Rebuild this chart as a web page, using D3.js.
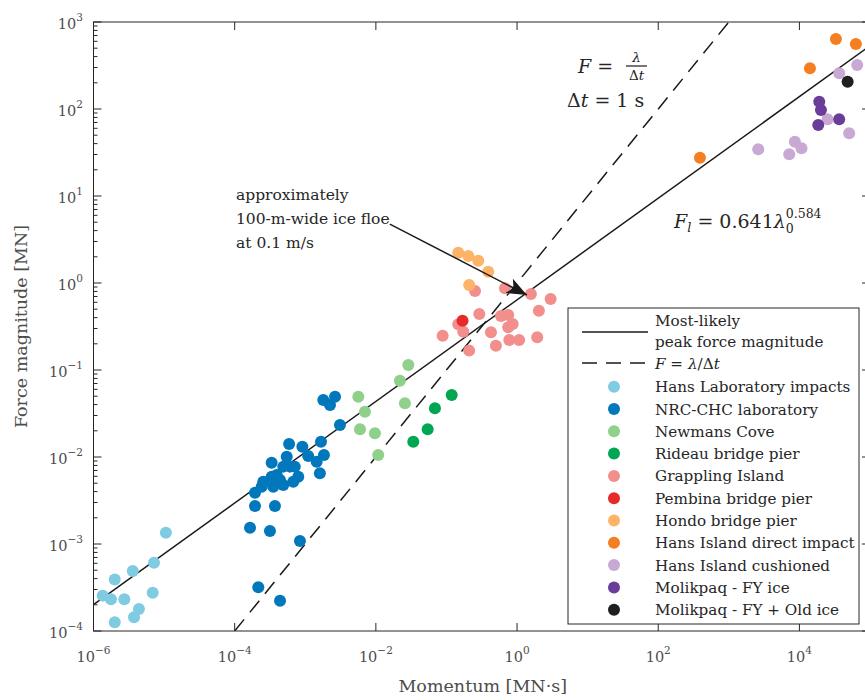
<!DOCTYPE html>
<html>
<head>
<meta charset="utf-8">
<script src="https://cdn.jsdelivr.net/npm/d3@7"></script>
<style>
  body { margin: 0; background: #fff; }
  text { font-family: "DejaVu Serif", serif; }
</style>
</head>
<body>
<div id="chart"></div>
<script>
// momentum [MN·s], force [MN]
const hansLab = [[1.06e-5, 1.35e-3], [7.2e-6, 6.1e-4], [3.6e-6, 4.9e-4], [2.0e-6, 3.9e-4],
  [1.35e-6, 2.55e-4], [1.77e-6, 2.31e-4], [2.73e-6, 2.31e-4], [6.9e-6, 2.75e-4],
  [4.4e-6, 1.79e-4], [3.75e-6, 1.44e-4], [2.0e-6, 1.26e-4]];
const nrcChc = [[1.80e-3, 0.0452], [2.64e-3, 0.0493], [2.24e-3, 0.0396], [3.1e-3, 0.0233],
  [5.9e-4, 0.0141], [9.1e-4, 0.0131], [1.67e-3, 0.0150], [1.84e-3, 0.01055],
  [3.34e-4, 8.6e-3], [5.46e-4, 0.01007], [6.07e-4, 7.75e-3], [1.10e-3, 0.01026],
  [1.45e-3, 8.83e-3], [1.61e-3, 6.5e-3], [7.96e-4, 5.94e-3], [6.76e-4, 5.2e-3],
  [4.39e-4, 5.45e-3], [3.34e-4, 5.94e-3], [2.54e-4, 5.2e-3], [3.52e-4, 4.56e-3],
  [4.88e-4, 4.77e-3], [2.41e-4, 4.56e-3], [1.94e-4, 3.89e-3], [4.88e-4, 7.75e-3],
  [3.94e-4, 6.2e-3], [7.1e-4, 7.75e-3], [1.94e-4, 2.74e-3], [3.72e-4, 2.74e-3],
  [1.65e-4, 1.54e-3], [3.16e-4, 1.41e-3], [8.4e-4, 1.08e-3], [2.16e-4, 3.18e-4],
  [4.39e-4, 2.23e-4]];
const newmansCove = [[0.0288, 0.114], [0.0219, 0.0753], [5.64e-3, 0.0493], [7.0e-3, 0.0332],
  [0.0258, 0.0414], [5.96e-3, 0.0208], [9.7e-3, 0.0187], [0.0108, 0.01055]];
const rideau = [[0.1186, 0.0516], [0.0687, 0.0363], [0.0542, 0.0208], [0.0339, 0.0150]];
const grappling = [[0.254, 0.809], [0.675, 0.869], [1.57, 0.748], [2.99, 0.655], [2.04, 0.481],
  [0.292, 0.441], [0.147, 0.335], [0.173, 0.275], [0.0883, 0.248], [0.592, 0.418],
  [0.750, 0.428], [0.867, 0.338], [0.750, 0.310], [0.427, 0.271], [0.502, 0.190],
  [0.776, 0.221], [1.07, 0.221], [1.93, 0.238], [0.210, 0.167]];
const pembina = [[0.169, 0.369]];
const hondo = [[0.147, 2.23], [0.204, 2.04], [0.282, 1.80], [0.391, 1.35], [0.210, 0.948]];
const hansDirect = [[32900, 638], [63100, 558], [14100, 294], [390, 27.5]];
const hansCushioned = [[65900, 320], [36600, 257], [25100, 76.2], [50700, 52.6],
  [2610, 34.4], [8630, 42.1], [10700, 35.3], [7170, 30.1]];
const molikpaqFY = [[19100, 121], [20200, 97.5], [36600, 76.2], [18500, 65.5]];
const molikpaqOld = [[48200, 206]];

const seriesNames = ["Hans Laboratory impacts", "NRC-CHC laboratory", "Newmans Cove",
  "Rideau bridge pier", "Grappling Island", "Pembina bridge pier", "Hondo bridge pier",
  "Hans Island direct impact", "Hans Island cushioned", "Molikpaq - FY ice",
  "Molikpaq - FY + Old ice"];
const seriesData = [hansLab, nrcChc, newmansCove, rideau, grappling, pembina, hondo,
  hansDirect, hansCushioned, molikpaqFY, molikpaqOld];
const seriesColors = ["#7fcbe2", "#0078bb", "#8fd08a", "#00a651", "#f28e8c", "#e62a2a",
  "#fdb466", "#f47e20", "#c7a9d4", "#6a3d9a", "#1f1f1f"];

const xTicks = [-6, -4, -2, 0, 2, 4];
const yTicks = [-4, -3, -2, -1, 0, 1, 2, 3];

// fitted curve F = a * lambda^b and the line F = lambda / dt
const fitA = 0.641, fitB = 0.584, dt = 1;

const W = 865, H = 700;
const x = d3.scaleLog().domain([1e-6, 1e5]).range([93.5, 870]);
const y = d3.scaleLog().domain([1e-4, 1e3]).range([631, 22]);

const svg = d3.select("#chart").append("svg")
  .attr("width", W).attr("height", H);

svg.append("defs").append("clipPath").attr("id", "plot")
  .append("rect").attr("x", x.range()[0]).attr("y", y.range()[1])
  .attr("width", x.range()[1] - x.range()[0]).attr("height", y.range()[0] - y.range()[1]);

svg.select("defs").append("marker")
  .attr("id", "head").attr("markerUnits", "userSpaceOnUse")
  .attr("viewBox", "0 0 20 16").attr("refX", 20).attr("refY", 8)
  .attr("markerWidth", 20).attr("markerHeight", 16).attr("orient", "auto")
  .append("path").attr("d", "M0,0 L20,8 L0,16 L5,8 Z").attr("fill", "#1a1a1a");

const plot = svg.append("g").attr("clip-path", "url(#plot)");

// lines
const line = d3.line().x(d => x(d[0])).y(d => y(d[1]));
const xd = x.domain();
plot.append("path")
  .attr("d", line(xd.map(v => [v, fitA * Math.pow(v, fitB)])))
  .attr("fill", "none").attr("stroke", "#1a1a1a").attr("stroke-width", 1.5);
plot.append("path")
  .attr("d", line([[1e-4, 1e-4 / dt], [1e4, 1e4 / dt]]))
  .attr("fill", "none").attr("stroke", "#1a1a1a").attr("stroke-width", 1.5)
  .attr("stroke-dasharray", "15,9");

// points
seriesData.forEach((data, i) => {
  plot.append("g").selectAll("circle")
    .data(data).enter().append("circle")
    .attr("cx", d => x(d[0])).attr("cy", d => y(d[1]))
    .attr("r", 6).attr("fill", seriesColors[i]);
});

// frame and ticks
const [x0, x1] = x.range();
const [yb, yt] = y.range();
const axisColor = "#262626";
svg.append("rect").attr("x", x0).attr("y", yt).attr("width", x1 - x0).attr("height", yb - yt)
  .attr("fill", "none").attr("stroke", axisColor).attr("stroke-width", 1);

const ticks = svg.append("g").attr("stroke", axisColor).attr("stroke-width", 1);
xTicks.forEach(e => {
  const px = x(Math.pow(10, e));
  ticks.append("line").attr("x1", px).attr("x2", px).attr("y1", yb).attr("y2", yb - 8);
  ticks.append("line").attr("x1", px).attr("x2", px).attr("y1", yt).attr("y2", yt + 8);
});
yTicks.forEach(e => {
  const py = y(Math.pow(10, e));
  ticks.append("line").attr("x1", x0).attr("x2", x0 + 8).attr("y1", py).attr("y2", py);
  ticks.append("line").attr("x1", x1).attr("x2", x1 - 8).attr("y1", py).attr("y2", py);
  if (e < 3) {
    for (let m = 2; m <= 9; m++) {
      const pm = y(m * Math.pow(10, e));
      ticks.append("line").attr("x1", x0).attr("x2", x0 + 4).attr("y1", pm).attr("y2", pm);
      ticks.append("line").attr("x1", x1).attr("x2", x1 - 4).attr("y1", pm).attr("y2", pm);
    }
  }
});

const labelColor = "#4d4d4d";
const expText = e => (e < 0 ? "\u2212" + (-e) : "" + e);
xTicks.forEach(e => {
  const t = svg.append("text").attr("x", x(Math.pow(10, e))).attr("y", 662)
    .attr("text-anchor", "middle").attr("fill", labelColor).attr("font-size", 14.5);
  t.append("tspan").text("10");
  t.append("tspan").attr("dy", -8).attr("font-size", 10.5).text(expText(e));
});
yTicks.forEach(e => {
  const t = svg.append("text").attr("x", 83).attr("y", y(Math.pow(10, e)) + 7)
    .attr("text-anchor", "end").attr("fill", labelColor).attr("font-size", 14.5);
  t.append("tspan").text("10");
  t.append("tspan").attr("dy", -8).attr("font-size", 10.5).text(expText(e));
});

svg.append("text").attr("x", (x0 + 868) / 2 + 2).attr("y", 692)
  .attr("text-anchor", "middle").attr("fill", labelColor).attr("font-size", 17.5)
  .text("Momentum [MN\u00b7s]");
svg.append("text").attr("transform", "translate(27," + ((yb + yt) / 2) + ") rotate(-90)")
  .attr("text-anchor", "middle").attr("fill", labelColor).attr("font-size", 17.5)
  .text("Force magnitude [MN]");

// annotations
const ann = svg.append("g").attr("fill", "#262626").attr("font-size", 15.5);
["approximately", "100-m-wide ice floe", "at 0.1 m/s"].forEach((s, i) => {
  ann.append("text").attr("x", 236).attr("y", 200 + i * 24).text(s);
});
svg.append("line")
  .attr("x1", x(0.0158)).attr("y1", y(4.76)).attr("x2", x(1.38)).attr("y2", y(0.728))
  .attr("stroke", "#1a1a1a").attr("stroke-width", 1.5).attr("marker-end", "url(#head)");

const f1 = ann.append("text").attr("x", 578).attr("y", 73).attr("font-size", 19);
f1.append("tspan").attr("font-style", "italic").text("F");
f1.append("tspan").text(" =");
ann.append("text").attr("x", 636.5).attr("y", 62).attr("text-anchor", "middle")
  .attr("font-size", 13.5).attr("font-style", "italic").text("\u03bb");
ann.append("line").attr("x1", 626).attr("x2", 647).attr("y1", 66).attr("y2", 66)
  .attr("stroke", "#1a1a1a").attr("stroke-width", 1.2);
const den = ann.append("text").attr("x", 636.5).attr("y", 80).attr("text-anchor", "middle")
  .attr("font-size", 13.5);
den.append("tspan").text("\u0394");
den.append("tspan").attr("font-style", "italic").text("t");
const f2 = ann.append("text").attr("x", 567).attr("y", 107).attr("font-size", 19);
f2.append("tspan").text("\u0394");
f2.append("tspan").attr("font-style", "italic").text("t");
f2.append("tspan").text(" = 1 s");

const f3 = ann.append("text").attr("x", 674).attr("y", 228).attr("font-size", 19);
f3.append("tspan").attr("font-style", "italic").text("F");
f3.append("tspan").attr("font-style", "italic").attr("font-size", 13).attr("dy", 4).text("l");
f3.append("tspan").attr("dy", -4).text(" = 0.641");
f3.append("tspan").attr("font-style", "italic").text("\u03bb");
f3.append("tspan").attr("font-size", 12.5).attr("dy", 5).text("0");
f3.append("tspan").attr("font-size", 12.5).attr("dx", -8).attr("dy", -15).text("0.584");

// legend
const lg = svg.append("g");
lg.append("rect").attr("x", 568).attr("y", 308).attr("width", 291).attr("height", 316)
  .attr("fill", "#fff").attr("stroke", axisColor).attr("stroke-width", 1);
const lt = lg.append("g").attr("fill", "#262626").attr("font-size", 15.2);
lg.append("line").attr("x1", 582).attr("x2", 648).attr("y1", 332).attr("y2", 332)
  .attr("stroke", "#1a1a1a").attr("stroke-width", 1.5);
lt.append("text").attr("x", 655).attr("y", 326).text("Most-likely");
lt.append("text").attr("x", 655).attr("y", 347).text("peak force magnitude");
lg.append("line").attr("x1", 582).attr("x2", 648).attr("y1", 363).attr("y2", 363)
  .attr("stroke", "#1a1a1a").attr("stroke-width", 1.5).attr("stroke-dasharray", "15,9");
const dl = lt.append("text").attr("x", 655).attr("y", 369);
dl.append("tspan").attr("font-style", "italic").text("F");
dl.append("tspan").text(" = ");
dl.append("tspan").attr("font-style", "italic").text("\u03bb");
dl.append("tspan").text("/\u0394");
dl.append("tspan").attr("font-style", "italic").text("t");

seriesNames.forEach((name, i) => {
  const cy = 386.7 + i * 22.3;
  lg.append("circle").attr("cx", 614).attr("cy", cy).attr("r", 6).attr("fill", seriesColors[i]);
  lt.append("text").attr("x", 655).attr("y", cy + 5.5).text(name);
});
</script>
</body>
</html>
